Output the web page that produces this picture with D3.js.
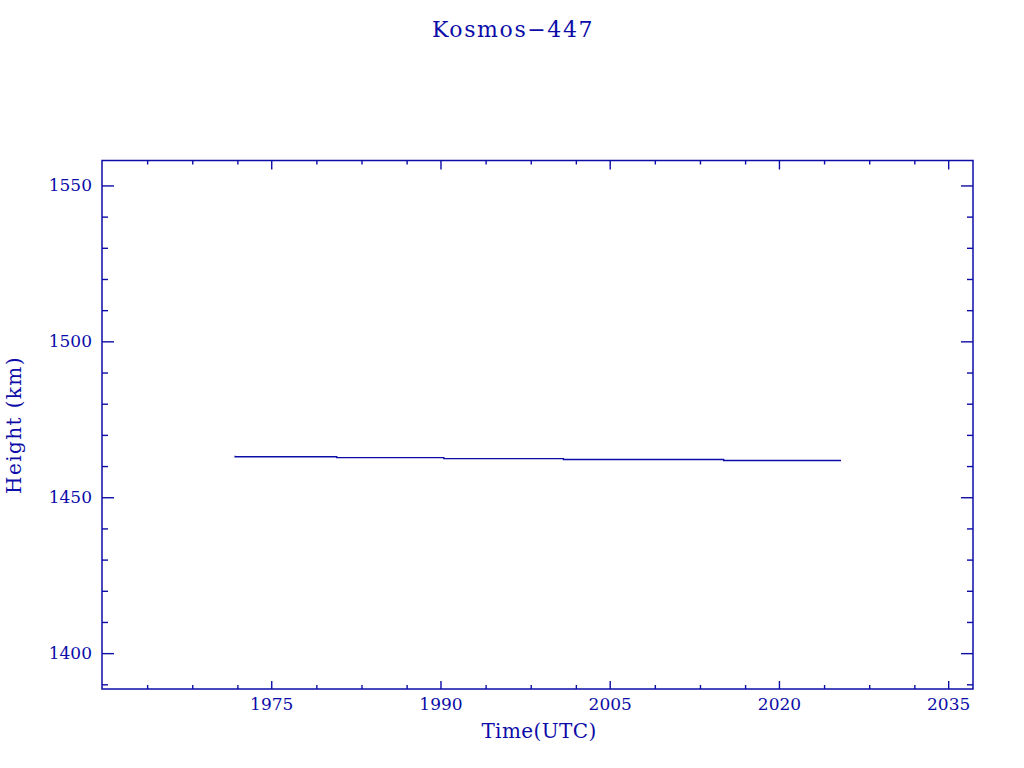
<!DOCTYPE html>
<html>
<head>
<meta charset="utf-8">
<script src="https://cdn.jsdelivr.net/npm/d3@7"></script>
<style>
html,body{margin:0;padding:0;background:#fff;}
svg text{font-family:"DejaVu Serif","Liberation Serif",serif;fill:#0c0ca8;}
</style>
</head>
<body>
<svg id="c" width="1024" height="768"></svg>
<script>
const title = "Kosmos\u2212447";
const xLabel = "Time(UTC)";
const yLabel = "Height (km)";
const years =   [1971.8, 1971.8, 1980.8, 1990.3, 2000.9, 2015.1, 2025.5];
const heights = [1463.3, 1463.0, 1462.7, 1462.4, 1462.1, 1461.8, 1461.8];
const xMajor = [1975, 1990, 2005, 2020, 2035];
const xMinor = [1964, 1968, 1972, 1979, 1983, 1987, 1994, 1998, 2002, 2009, 2013, 2017, 2024, 2028, 2032];
const yMajor = [1400, 1450, 1500, 1550];
const yMinor = [1390, 1410, 1420, 1430, 1440, 1460, 1470, 1480, 1490, 1510, 1520, 1530, 1540];
const xDomain = [1960, 2037.2];
const yDomain = [1388.5, 1558.0];

const col = "#0c0ca8";
const L = 102, R = 973, T = 160.5, B = 689;
const svg = d3.select("#c");
const x = d3.scaleLinear().domain(xDomain).range([L, R]);
const y = d3.scaleLinear().domain(yDomain).range([B, T]);

function styleAxis(g){
  g.select(".domain").remove();
  g.selectAll("line").attr("stroke", col).attr("stroke-width", 1.4);
  g.selectAll("text").attr("fill", col).style("font-size","17px");
}
// bottom
svg.append("g").attr("transform",`translate(0,${B})`)
  .call(d3.axisBottom(x).tickValues(xMajor).tickSize(-8).tickFormat(d3.format("d")))
  .call(styleAxis).selectAll("text").attr("dy","0").attr("y", 21);
svg.append("g").attr("transform",`translate(0,${B})`)
  .call(d3.axisBottom(x).tickValues(xMinor).tickSize(-4).tickFormat(""))
  .call(styleAxis);
// top
svg.append("g").attr("transform",`translate(0,${T})`)
  .call(d3.axisTop(x).tickValues(xMajor).tickSize(-9).tickFormat(""))
  .call(styleAxis);
svg.append("g").attr("transform",`translate(0,${T})`)
  .call(d3.axisTop(x).tickValues(xMinor).tickSize(-4).tickFormat(""))
  .call(styleAxis);
// left
svg.append("g").attr("transform",`translate(${L},0)`)
  .call(d3.axisLeft(y).tickValues(yMajor).tickSize(-12).tickPadding(10).tickFormat(d3.format("d")))
  .call(styleAxis);
svg.append("g").attr("transform",`translate(${L},0)`)
  .call(d3.axisLeft(y).tickValues(yMinor).tickSize(-6).tickFormat(""))
  .call(styleAxis);
// right
svg.append("g").attr("transform",`translate(${R},0)`)
  .call(d3.axisRight(y).tickValues(yMajor).tickSize(-12).tickFormat(""))
  .call(styleAxis);
svg.append("g").attr("transform",`translate(${R},0)`)
  .call(d3.axisRight(y).tickValues(yMinor).tickSize(-6).tickFormat(""))
  .call(styleAxis);
// frame
svg.append("rect").attr("x",L).attr("y",T).attr("width",R-L).attr("height",B-T)
  .attr("fill","none").attr("stroke",col).attr("stroke-width",1.5);

// data
const line = d3.line().x((d,i)=>x(years[i])).y((d,i)=>y(heights[i])).curve(d3.curveStepAfter);
svg.append("path").attr("d", line(heights)).attr("fill","none").attr("stroke",col).attr("stroke-width",1.4);

// labels
svg.append("text").attr("x",513).attr("y",37).attr("text-anchor","middle")
  .style("font-size","22px").style("letter-spacing","1.6px").text(title);
svg.append("text").attr("x",539).attr("y",738).attr("text-anchor","middle")
  .style("font-size","20px").style("letter-spacing","0.4px").text(xLabel);
svg.append("text").attr("transform","translate(21,425) rotate(-90)").attr("text-anchor","middle")
  .style("font-size","20px").style("letter-spacing","1.4px").text(yLabel);
</script>
</body>
</html>
